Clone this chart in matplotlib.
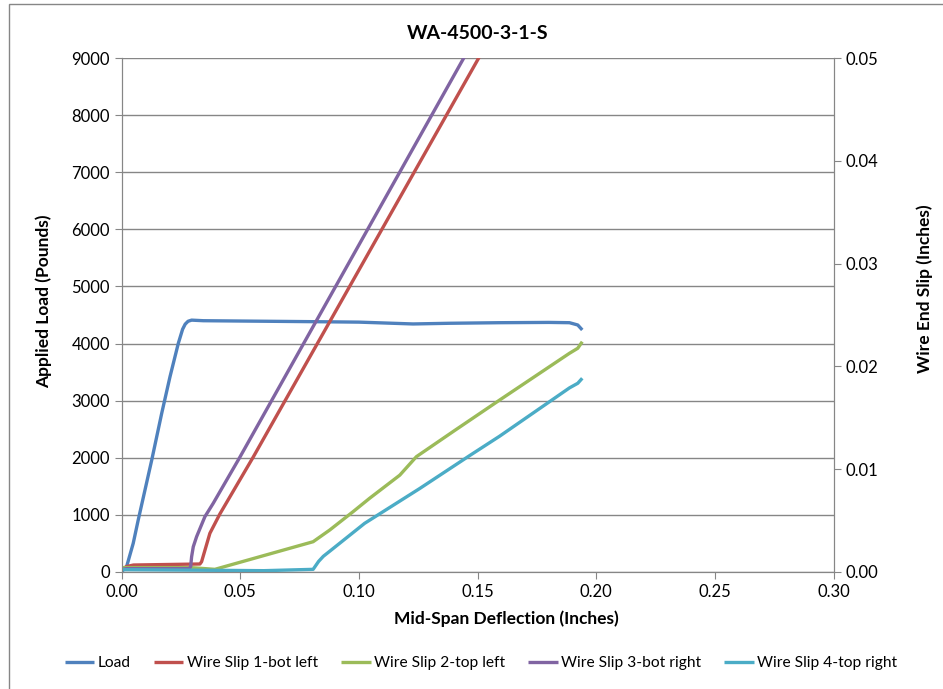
import matplotlib.pyplot as plt
from matplotlib.patches import Rectangle

# Deflection (in) vs applied load (lb)
defl_load = [0.0, 0.0021, 0.0049, 0.0070, 0.0127, 0.0169, 0.0204, 0.0239, 0.0257, 0.0268, 0.0280,
             0.0295, 0.0344, 0.0807, 0.1000, 0.1228, 0.1382, 0.1593, 0.1800, 0.1887, 0.1922, 0.1941]
load = [0, 88, 498, 906, 1958, 2777, 3419, 4004, 4250, 4340, 4390,
        4410, 4400, 4383, 4375, 4343, 4355, 4365, 4370, 4365, 4325, 4238]

# Wire end slips (in), secondary axis
defl_s1 = [0.0, 0.002, 0.005, 0.0330, 0.0337, 0.0372, 0.0414, 0.0554, 0.1504, 0.1515]
slip1 = [0.0002, 0.0005, 0.00065, 0.00075, 0.00097, 0.00374, 0.00562, 0.01114, 0.0500, 0.0505]

defl_s2 = [0.0, 0.0290, 0.0393, 0.0807, 0.0877, 0.0975, 0.1045, 0.1172, 0.1242, 0.1400,
           0.1593, 0.1887, 0.1922, 0.1941]
slip2 = [0.0004, 0.0004, 0.00023, 0.00292, 0.00406, 0.00584, 0.00715, 0.0094, 0.0112, 0.0137,
         0.01672, 0.02127, 0.02176, 0.0224]

defl_s3 = [0.0, 0.002, 0.0285, 0.0291, 0.0295, 0.0302, 0.0316, 0.0351, 0.0386, 0.0498,
           0.1441, 0.1455]
slip3 = [0.0002, 0.0003, 0.0003, 0.0005, 0.00146, 0.00243, 0.00341, 0.00536, 0.00666, 0.01114,
         0.0500, 0.0506]

defl_s4 = [0.0, 0.0300, 0.0600, 0.0807, 0.0830, 0.0850, 0.0880, 0.1024, 0.1256, 0.1466,
           0.1593, 0.1887, 0.1922, 0.1941]
slip4 = [0.0002, 0.00015, 0.0001, 0.00023, 0.00100, 0.00150, 0.00205, 0.00471, 0.0081, 0.0113,
         0.0132, 0.0179, 0.01835, 0.01884]

labels = ['Load', 'Wire Slip 1-bot left', 'Wire Slip 2-top left',
          'Wire Slip 3-bot right', 'Wire Slip 4-top right']
colors = ['#4F81BD', '#C0504D', '#9BBB59', '#8064A2', '#4BACC6']

plt.rcParams['font.family'] = ['Lato', 'DejaVu Sans']
grey = '#868686'

fig = plt.figure(figsize=(9.43, 6.89), dpi=100)
ax = fig.add_axes([121.6 / 943, 1 - 571.7 / 689, 712 / 943, 513.4 / 689])
ax2 = ax.twinx()

lw = 2.4
h0, = ax.plot(defl_load, load, color=colors[0], lw=lw, label=labels[0], solid_capstyle='butt')
h1, = ax2.plot(defl_s1, slip1, color=colors[1], lw=lw, label=labels[1], solid_capstyle='butt')
h2, = ax2.plot(defl_s2, slip2, color=colors[2], lw=lw, label=labels[2], solid_capstyle='butt')
h3, = ax2.plot(defl_s3, slip3, color=colors[3], lw=lw, label=labels[3], solid_capstyle='butt')
h4, = ax2.plot(defl_s4, slip4, color=colors[4], lw=lw, label=labels[4], solid_capstyle='butt')

ax.set_xlim(0, 0.30)
ax.set_ylim(0, 9000)
ax2.set_ylim(0, 0.05)
ax.set_xticks([0, 0.05, 0.10, 0.15, 0.20, 0.25, 0.30])
ax.set_xticklabels(['0.00', '0.05', '0.10', '0.15', '0.20', '0.25', '0.30'])
ax.set_yticks(range(0, 9001, 1000))
ax2.set_yticks([0, 0.01, 0.02, 0.03, 0.04, 0.05])
ax2.set_yticklabels(['0.00', '0.01', '0.02', '0.03', '0.04', '0.05'])

ax.grid(axis='y', color=grey, lw=1.0)
ax.set_axisbelow(True)
for a in (ax, ax2):
    for s in a.spines.values():
        s.set_color(grey)
    a.spines['top'].set_visible(False)
    a.tick_params(colors=grey, labelcolor='black', labelsize=12, length=5, direction='out')

ax.set_title('WA-4500-3-1-S', fontsize=14, fontweight='bold', pad=14)
ax.set_xlabel('Mid-Span Deflection (Inches)', fontsize=12.5, fontweight='bold')
ax.set_ylabel('Applied Load (Pounds)', fontsize=12.5, fontweight='bold')
ax2.set_ylabel('Wire End Slip (Inches)', fontsize=12.5, fontweight='bold')
ax.xaxis.set_label_coords(0.541, -0.076)
ax.yaxis.set_label_coords(-0.098, 0.527)
ax2.yaxis.set_label_coords(1.117, 0.551)

fig.legend(handles=[h0, h1, h2, h3, h4], loc='center', ncol=5, frameon=False,
           bbox_to_anchor=(481 / 943, 1 - 663 / 689), fontsize=11.2,
           handlelength=1.9, handletextpad=0.2, columnspacing=1.5)

# chart area border
fig.patches.append(Rectangle((9 / 943, -0.1), 1.2, 1 - 4.5 / 689 + 0.1, transform=fig.transFigure,
                             fill=False, edgecolor=grey, lw=1.0))

fig.savefig('out.png', dpi=100)
